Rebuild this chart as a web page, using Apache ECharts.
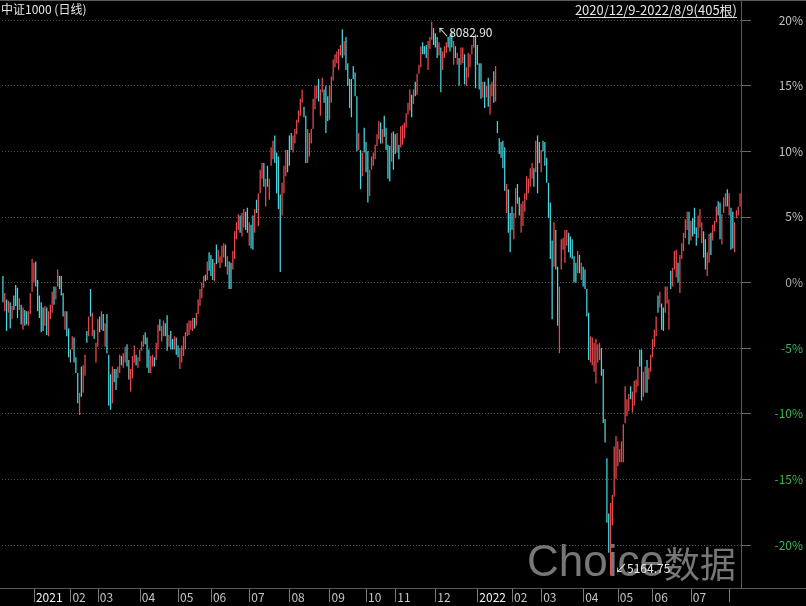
<!DOCTYPE html>
<html><head><meta charset="utf-8">
<script src="https://cdn.jsdelivr.net/npm/echarts@6/dist/echarts.min.js"></script>
<style>html,body{margin:0;padding:0;background:#000;}#c{width:806px;height:606px;}</style>
</head><body><div id="c"></div>
<script>
const titleText = '中证1000 (日线)';
const rangeText = '2020/12/9-2022/8/9(405根)';
const months = ['2020-12','2021-01','2021-02','2021-03','2021-04','2021-05','2021-06','2021-07','2021-08','2021-09','2021-10','2021-11','2021-12','2022-01','2022-02','2022-03','2022-04','2022-05','2022-06','2022-07','2022-08'];
const monthDays = [17,20,15,23,21,18,21,22,22,20,16,22,23,19,16,23,19,19,21,21,7];
const monthLabels = ['','2021','02','03','04','05','06','07','08','09','10','11','12','2022','02','03','04','05','06','07',''];
const yTickValues = [-25,-20,-15,-10,-5,0,5,10,15,20,25];
const peakLabel = '8082.90';
const troughLabel = '5164.75';
// [open, close, low, high] in % vs base
const candles = [
[0.2,-1.0,-1.5,0.5],[-1.9,-1.0,-2.2,-0.8],[-1.6,-3.1,-3.7,-1.3],[-2.1,-1.6,-2.3,-1.4],[-1.8,-3.0,-3.5,-1.5],[-2.6,-2.0,-2.8,-1.8],[-1.2,-1.8,-2.1,-1.0],[-0.4,-1.4,-1.8,-0.2],[-0.7,-2.2,-2.7,-0.4],[-1.9,-1.4,-2.1,-1.2],
[-1.9,-2.8,-3.2,-1.7],[-3.2,-2.2,-3.6,-1.9],[-2.3,-3.0,-3.3,-2.1],[-2.4,-3.0,-3.2,-2.2],[-3.0,-2.4,-3.3,-2.2],[-2.0,-1.0,-2.4,-0.8],[-0.1,1.5,-0.7,1.8],[0.4,1.3,0.0,1.5],[1.3,0.2,-0.3,1.6],[-0.1,-1.6,-2.2,0.2],
[-1.3,-2.3,-2.7,-1.0],[-1.9,-3.2,-3.8,-1.5],[-2.2,-3.3,-3.7,-1.9],[-2.9,-2.0,-3.3,-1.8],[-2.2,-3.5,-4.0,-1.9],[-3.6,-2.5,-4.1,-2.2],[-2.5,-1.9,-2.8,-1.7],[-1.9,-0.9,-2.3,-0.7],[-0.5,-1.4,-1.7,-0.3],[-1.1,-0.5,-1.3,-0.3],
[0.0,0.8,-0.3,1.0],[0.4,-0.3,-0.5,0.5],[0.3,-0.7,-1.0,0.5],[-1.0,-2.2,-2.6,-0.8],[-3.2,-2.4,-3.6,-2.2],[-2.5,-3.7,-4.1,-2.2],[-3.8,-5.2,-5.7,-3.5],[-5.6,-5.6,-6.1,-5.1],[-4.9,-4.3,-5.1,-4.1],[-4.5,-5.7,-6.1,-4.2],
[-5.9,-6.6,-6.9,-5.7],[-7.2,-8.6,-9.2,-6.9],[-9.7,-8.7,-10.1,-8.4],[-6.7,-8.1,-8.7,-6.4],[-7.9,-6.6,-8.4,-6.3],[-6.7,-5.8,-7.1,-5.5],[-3.9,-4.4,-4.6,-3.7],[-3.7,-2.8,-4.1,-2.6],[-0.8,-2.1,-2.6,-0.5],[-3.7,-2.6,-4.1,-2.3],
[-3.7,-4.1,-4.3,-3.6],[-5.7,-4.8,-6.1,-4.6],[-4.4,-3.1,-4.9,-2.8],[-2.8,-3.5,-3.8,-2.6],[-3.2,-2.4,-3.6,-2.2],[-2.6,-3.4,-3.7,-2.4],[-4.4,-3.4,-4.9,-3.1],[-2.8,-4.7,-5.4,-2.4],[-6.1,-8.5,-9.4,-5.5],[-7.4,-9.1,-9.7,-7.0],
[-8.5,-6.8,-9.2,-6.4],[-6.8,-7.4,-7.6,-6.6],[-6.8,-7.8,-8.2,-6.6],[-7.1,-6.6,-7.3,-6.4],[-6.6,-5.8,-6.9,-5.5],[-5.7,-6.1,-6.3,-5.6],[-6.2,-5.6,-6.5,-5.4],[-5.8,-5.1,-6.1,-4.9],
[-4.9,-6.0,-6.4,-4.7],[-6.6,-6.6,-7.4,-5.9],[-7.8,-6.9,-8.3,-6.6],[-6.8,-5.9,-7.3,-5.6],[-5.8,-5.0,-6.1,-4.8],[-5.6,-6.1,-6.3,-5.5],[-6.3,-5.8,-6.5,-5.7],[-5.8,-5.2,-6.0,-5.1],[-5.0,-4.6,-5.2,-4.5],[-4.6,-4.1,-4.9,-4.0],
[-3.9,-4.5,-4.7,-3.8],[-4.5,-6.0,-6.5,-4.2],[-5.3,-6.5,-6.9,-5.1],[-6.6,-5.8,-6.9,-5.6],[-6.1,-5.6,-6.4,-5.5],[-5.8,-6.2,-6.4,-5.7],[-5.6,-4.8,-5.9,-4.6],[-4.6,-3.5,-5.1,-3.2],[-2.9,-3.5,-3.7,-2.8],[-4.2,-3.5,-4.5,-3.3],
[-3.8,-3.1,-4.1,-2.9],[-3.2,-3.8,-4.1,-3.1],[-2.9,-4.6,-5.2,-2.5],[-4.6,-4.1,-4.9,-4.0],[-3.9,-4.7,-5.1,-3.7],[-4.5,-4.9,-5.1,-4.3],[-4.8,-4.2,-5.1,-4.1],[-4.4,-5.2,-5.5,-4.2],[-5.0,-5.5,-5.7,-4.8],[-6.2,-5.2,-6.6,-5.0],
[-5.8,-5.0,-6.1,-4.8],[-5.2,-4.3,-5.6,-4.1],[-4.8,-4.0,-5.1,-3.8],[-3.8,-3.2,-4.1,-3.1],[-3.7,-3.1,-4.0,-2.9],[-3.4,-3.0,-3.6,-2.9],[-3.4,-2.8,-3.7,-2.7],[-2.8,-3.3,-3.5,-2.7],[-3.1,-2.4,-3.3,-2.3],[-2.2,-1.4,-2.4,-1.3],
[-1.5,-0.7,-1.8,-0.5],[-0.9,-0.2,-1.2,0.0],[-0.2,0.4,-0.4,0.5],[0.5,0.2,0.1,0.6],[0.5,1.4,0.2,1.6],[2.0,1.2,0.9,2.3],[1.9,0.8,0.5,2.1],[1.5,0.6,0.2,1.8],[0.4,1.3,0.1,1.5],[2.6,1.7,1.4,2.9],
[1.7,2.3,1.5,2.5],[1.3,1.9,1.1,2.0],[1.8,2.6,1.5,2.8],[2.1,2.9,1.9,3.0],[2.6,1.6,1.2,2.9],[0.9,1.8,0.6,2.0],[1.3,-0.1,-0.5,1.6],[1.2,-0.1,-0.5,1.5],[1.3,2.2,1.0,2.4],[2.3,3.6,1.8,3.9],
[3.6,4.4,3.3,4.6],[4.3,5.0,4.0,5.2],[4.9,4.1,3.8,5.1],[3.9,5.0,3.5,5.3],[4.5,5.4,4.2,5.6],[5.2,4.3,4.0,5.4],[5.4,4.2,3.8,5.7],[3.2,4.3,2.8,4.6],[4.2,3.0,2.6,4.4],[4.7,3.0,2.5,5.1],
[4.2,5.3,3.8,5.6],[6.2,5.5,5.3,6.3],[4.9,6.5,4.3,6.8],[7.3,8.4,6.8,8.6],[8.2,8.9,7.9,9.1],[8.9,7.8,7.3,9.1],[6.3,7.6,5.8,7.9],[8.6,7.7,7.3,8.9],[6.7,7.6,6.3,7.9],[9.2,10.0,8.9,10.3],
[9.7,10.6,9.4,10.8],[10.8,9.6,9.1,11.2],[9.4,7.6,6.8,9.9],[9.0,6.4,5.6,9.6],[6.3,4.5,0.8,6.7],[5.6,7.3,5.1,7.6],[7.3,8.6,6.8,8.9],[8.6,9.9,8.1,10.1],[9.3,9.3,8.4,10.1],[10.8,9.4,8.9,11.2],
[11.2,10.4,10.1,11.4],[10.2,11.0,9.9,11.2],[10.9,11.5,10.6,11.7],[11.6,12.2,11.3,12.4],[12.4,12.9,12.2,13.1],[13.0,13.8,12.7,14.0],[14.0,14.5,13.7,14.7],[13.3,12.8,12.6,13.4],[12.2,9.8,9.1,12.7],[9.7,11.3,9.1,11.7],
[10.1,11.1,9.6,11.4],[10.9,11.5,10.6,11.7],[12.1,13.6,11.7,14.0],[13.6,14.7,13.2,15.0],[14.2,14.8,14.0,15.0],[15.2,14.2,13.8,15.5],[13.2,14.4,12.7,14.7],[14.7,15.4,14.5,15.6],[14.5,13.9,13.7,14.7],[14.5,12.3,11.4,15.0],
[13.9,12.8,12.3,14.2],[13.0,14.6,12.4,15.0],[14.2,15.4,13.7,15.7],[15.8,16.7,15.4,17.0],[16.6,17.2,16.4,17.4],[17.0,17.5,16.7,17.6],[16.6,17.5,16.2,17.8],[17.5,18.0,17.3,18.1],[18.9,17.6,17.1,19.3],[17.5,18.2,17.3,18.4],
[18.3,16.8,16.2,18.7],[16.5,15.4,15.0,16.7],[14.4,14.4,13.3,15.5],[15.1,13.2,12.6,15.5],[16.3,15.7,15.5,16.5],[15.7,14.6,14.2,16.0],[13.6,10.8,10.0,14.2],[10.4,11.2,10.1,11.4],[9.7,7.8,7.1,10.1],[8.4,9.6,8.1,9.9],
[11.5,10.3,9.9,11.8],[10.3,8.9,8.4,10.7],[9.4,6.9,6.1,10.0],[7.0,8.3,6.6,8.6],[8.8,9.4,8.6,9.6],[9.1,9.7,8.9,9.9],[9.6,10.3,9.4,10.5],[10.6,11.1,10.4,11.3],[11.2,12.1,10.9,12.3],
[11.9,11.0,10.6,12.2],[10.9,11.5,10.6,11.7],[12.4,11.5,11.1,12.7],[11.5,10.5,10.1,11.8],[10.1,8.4,7.9,10.5],[10.0,8.3,7.7,10.4],[9.8,11.1,9.2,11.4],[11.1,9.2,8.6,11.5],[11.0,10.1,9.8,11.3],[10.3,11.1,9.9,11.4],
[10.3,9.6,9.4,10.5],[10.7,11.6,10.3,11.9],[10.9,11.8,10.5,12.0],[11.3,12.0,11.0,12.2],[12.1,12.8,11.8,12.9],[13.0,13.5,12.8,13.7],[13.5,14.4,13.1,14.7],[14.1,13.0,12.6,14.3],[13.9,14.5,13.6,14.7],[15.2,14.5,14.2,15.3],
[14.7,15.6,14.3,15.9],[16.0,16.5,15.9,16.6],[16.8,17.8,16.4,18.0],[18.1,17.6,17.4,18.3],[17.9,17.5,17.4,18.0],[18.0,17.4,17.1,18.1],[16.7,18.1,16.2,18.4],[18.0,18.5,17.8,18.7],[18.8,19.6,18.5,19.87],[19.2,18.4,18.1,19.4],
[18.8,18.1,17.9,19.0],[18.4,17.5,17.1,18.7],[17.5,18.1,17.3,18.3],[17.5,15.2,14.5,17.9],[16.5,17.4,16.2,17.6],[17.3,17.9,17.1,18.0],[17.7,18.1,17.5,18.3],[18.5,18.0,17.9,18.7],[18.6,17.9,17.6,18.8],[19.0,18.1,17.9,19.2],
[17.0,18.1,16.6,18.4],[17.9,17.3,17.1,18.0],[16.8,17.3,16.6,17.5],[16.8,15.4,15.0,17.1],[16.9,17.7,16.6,17.9],[17.0,17.7,16.7,17.9],[17.1,15.6,15.1,17.4],[15.3,16.1,15.0,16.4],[16.0,17.2,15.6,17.5],[16.6,17.2,16.4,17.4],
[17.6,18.0,17.4,18.1],[18.1,18.6,17.9,18.8],[18.5,15.6,14.8,18.9],[17.9,16.9,16.6,18.1],[16.5,15.1,14.7,16.7],[16.4,14.5,14.0,16.7],[14.4,15.1,14.1,15.3],[15.0,13.8,13.3,15.3],[14.3,14.8,14.1,15.0],[15.3,13.9,13.4,15.6],
[13.4,14.8,12.8,15.1],[14.5,15.1,14.2,15.3],[14.9,14.9,13.7,16.1],[14.5,16.1,13.8,16.5],[12.2,11.6,11.4,12.3],[10.9,10.0,9.8,11.0],[10.5,9.7,9.5,10.7],[10.5,9.2,8.7,10.8],[9.9,7.5,7.0,10.3],
[5.7,7.2,5.3,7.5],[6.8,4.4,3.8,7.1],[5.0,2.8,2.3,5.3],[5.6,4.4,4.0,5.8],[3.7,5.0,3.3,5.3],[5.4,6.9,4.9,7.2],[7.3,6.3,6.0,7.5],[6.3,5.4,5.1,6.5],[4.3,5.6,3.8,6.0],[4.7,5.9,4.3,6.2],
[5.8,6.6,5.4,6.8],[6.8,7.8,6.3,8.1],[7.1,7.7,6.8,7.9],[7.7,8.5,7.3,8.7],[8.2,8.9,7.9,9.1],[8.5,7.7,7.3,8.7],[8.9,10.4,8.4,10.8],[10.5,7.6,6.8,11.2],[9.9,9.9,9.1,10.7],[8.8,9.9,8.4,10.1],
[10.7,10.2,10.0,10.8],[10.4,9.3,8.9,10.7],[9.2,8.0,7.6,9.5],[7.2,5.5,4.9,7.6],[5.4,2.6,1.8,6.1],[2.3,-1.4,-2.8,3.2],[1.8,4.2,1.2,4.6],[2.5,2.5,1.0,4.0],[0.9,-2.6,-3.3,1.2],
[-4.5,-0.6,-5.4,-0.3],[1.4,3.0,1.0,3.3],[2.7,3.3,2.5,3.4],[2.0,3.7,1.5,4.0],[3.0,3.9,2.8,4.0],[3.6,2.6,2.3,3.8],[3.3,2.2,1.9,3.5],[3.1,2.1,1.8,3.3],[1.8,0.4,0.0,2.0],[1.3,0.3,0.0,1.5],
[1.0,2.2,0.7,2.4],[1.9,1.0,0.7,2.1],[0.5,1.3,0.2,1.5],[1.0,0.1,-0.3,1.2],[0.8,-0.2,-0.5,1.0],[-0.8,-2.1,-2.6,-0.5],[-2.7,-5.2,-5.9,-2.3],[-5.7,-4.3,-6.1,-4.1],[-5.8,-4.5,-6.3,-4.2],[-6.3,-4.8,-6.8,-4.6],
[-7.0,-4.7,-7.7,-4.3],[-5.8,-4.9,-6.1,-4.7],[-5.6,-4.8,-5.9,-4.6],[-5.2,-6.7,-7.1,-5.0],[-7.0,-10.1,-10.7,-6.6],[-10.6,-11.9,-12.2,-10.4],[-13.8,-17.6,-18.3,-13.4],[-17.8,-20.2,-20.6,-17.6],[-20.4,-17.2,-22.3,-16.8],[-17.9,-16.5,-18.5,-16.2],
[-15.8,-12.8,-16.3,-12.5],[-14.6,-12.0,-15.0,-11.7],[-13.4,-12.4,-14.0,-12.1],[-13.5,-12.9,-13.7,-12.7],[-13.4,-12.3,-13.7,-12.1],[-13.2,-11.1,-13.7,-10.8],[-10.2,-8.2,-10.7,-7.9],
[-9.9,-9.1,-10.2,-8.9],[-9.5,-8.7,-9.8,-8.5],[-8.0,-8.7,-8.9,-7.9],[-9.6,-8.5,-9.9,-8.3],[-9.0,-7.8,-9.4,-7.5],[-8.2,-7.5,-8.4,-7.4],[-7.6,-6.6,-7.9,-6.4],[-5.3,-6.1,-6.4,-5.1],[-5.6,-8.3,-9.0,-5.1],[-8.3,-7.0,-8.7,-6.8],
[-8.0,-6.6,-8.4,-6.4],[-6.2,-7.9,-8.4,-5.9],[-7.2,-6.6,-7.4,-6.5],[-6.5,-5.7,-6.8,-5.5],[-5.4,-4.5,-5.7,-4.3],[-4.6,-3.8,-4.9,-3.6],[-3.8,-2.8,-4.1,-2.6],[-1.2,-2.0,-2.3,-1.0],[-1.7,-0.8,-1.9,-0.7],[-1.8,-3.2,-3.6,-1.6],
[-2.2,-3.3,-3.7,-1.9],[-1.9,-0.5,-2.3,-0.3],[-1.3,-0.4,-1.6,-0.3],[-3.2,-1.6,-3.6,-1.3],[0.7,-0.2,-0.5,0.9],[0.1,1.0,-0.3,1.1],[1.3,2.2,1.0,2.4],[0.8,2.3,0.4,2.5],[1.3,0.4,0.0,1.5],[-0.3,1.8,-0.8,2.1],
[2.0,2.9,1.8,3.0],[2.7,3.6,2.4,3.8],[3.7,4.6,3.4,4.8],[4.4,5.2,4.0,5.4],[5.2,3.5,2.9,5.4],[3.5,4.5,3.2,4.7],[4.8,3.8,3.5,4.9],[5.4,4.1,3.7,5.7],[4.0,3.1,2.8,4.2],[3.8,4.9,3.4,5.1],
[4.5,5.4,4.2,5.6],[3.4,4.3,3.0,4.6],[3.7,2.3,1.9,3.9],[3.0,1.5,1.0,3.3],[0.9,2.0,0.5,2.3],[2.0,3.4,1.5,3.7],[3.6,2.5,2.1,3.8],[3.4,4.3,3.2,4.4],[4.1,4.6,3.9,4.7],[4.8,5.6,4.6,5.8],
[6.0,5.3,5.1,6.2],[5.8,3.8,3.3,6.1],[3.3,4.9,2.9,5.2],[5.5,6.3,5.3,6.5],[6.0,6.7,5.8,6.8],[6.9,6.1,5.8,7.1],[5.4,6.6,5.1,6.8],[5.4,3.1,2.5,5.7],[5.1,3.2,2.6,5.4],[2.7,4.3,2.3,4.6],
[5.0,5.4,4.9,5.5],[5.2,5.7,5.1,5.8],[5.9,6.7,5.8,6.8]
];

// build categories (trading-day slots per month) and month-start label map
const categories = [];
const monthStart = {};
months.forEach(function (m, mi) {
  monthStart[categories.length] = mi;
  for (let d = 0; d < monthDays[mi]; d++) categories.push(m + '#' + (d + 1));
});
function isMonthTick(idx) { return monthStart[idx] !== undefined && monthStart[idx] > 0; }

const FONT = "'Microsoft YaHei','Noto Sans CJK SC','Liberation Sans',sans-serif";
const UP = '#ea4a4e', DOWN = '#48d6de', DOJI = '#a8a8a8';
const FRAME = '#5a5a5a';

const chart = echarts.init(document.getElementById('c'), null, {renderer: 'canvas'});
chart.setOption({
  backgroundColor: '#000',
  animation: false,
  textStyle: {fontFamily: FONT},
  title: [
    {text: titleText, left: 1, top: 3, padding: 0,
     textStyle: {color: '#e6e6e6', fontSize: 12, fontWeight: 'normal', fontFamily: FONT}},
    {text: rangeText, right: 69, top: 4, padding: 0,
     textStyle: {color: '#e6e6e6', fontSize: 13, fontWeight: 'normal', fontFamily: FONT}}
  ],
  grid: {left: 2, right: 65, top: -45.6, bottom: -4.6, containLabel: false, outerBoundsMode: 'none'},
  xAxis: {
    type: 'category', data: categories, boundaryGap: true, position: 'bottom', offset: -22.6,
    axisLine: {show: false, onZero: false},
    axisTick: {show: true, length: 14, alignWithLabel: true, interval: function (i) { return isMonthTick(i); },
               lineStyle: {color: '#7a7a7a', width: 1}},
    axisLabel: {
      show: true, interval: function (i) { return isMonthTick(i) && monthLabels[monthStart[i]] !== ''; },
      align: 'left', margin: 3, padding: [0, 0, 0, 2], fontSize: 12, fontFamily: FONT,
      formatter: function (v, i) {
        const mi = monthStart[i];
        if (mi === undefined) return '';
        const t = monthLabels[mi];
        if (!t) return '';
        return t.length === 4 ? '{y|' + t + '}' : '{m|' + t + '}';
      },
      rich: {y: {color: '#f2f2f2', fontSize: 12, fontFamily: FONT}, m: {color: '#c4c4c4', fontSize: 12, fontFamily: FONT}}
    },
    splitLine: {show: false}
  },
  yAxis: {
    type: 'value', position: 'right', min: yTickValues[0], max: yTickValues[yTickValues.length - 1], interval: 5,
    axisLine: {show: false},
    axisTick: {show: true, length: 10, lineStyle: {color: '#6a6a6a'}},
    axisLabel: {
      margin: 62, align: 'right', fontSize: 12, fontFamily: FONT,
      formatter: function (v) { return v + '%'; },
      color: function (v) { v = Number(v); return v < 0 ? '#3cb551' : (v === 0 ? '#a9a9a9' : '#c2c2c2'); }
    },
    splitLine: {show: true, lineStyle: {color: '#505050', type: [1, 2], width: 1}}
  },
  series: [{
    type: 'candlestick',
    data: candles,
    large: true, largeThreshold: 50,
    barWidth: 1,
    itemStyle: {color: UP, color0: DOWN, borderColor: UP, borderColor0: DOWN, borderColorDoji: DOJI, borderWidth: 1.25},
    markPoint: {
      symbol: 'circle', symbolSize: 1,
      itemStyle: {color: 'rgba(0,0,0,0)'},
      label: {show: true, color: '#e8e8e8', fontSize: 12, fontFamily: FONT},
      data: [
        {type: 'max', valueDim: 'highest',
         label: {formatter: '↖' + peakLabel, position: 'right', distance: 5, offset: [0, 11]}},
        {type: 'min', valueDim: 'lowest',
         label: {formatter: '↙' + troughLabel, position: 'right', distance: 4, offset: [0, -7]}}
      ]
    }
  }],
  graphic: [
    {type: 'line', z: 10, shape: {x1: 0, y1: 0.5, x2: 806, y2: 0.5}, style: {stroke: FRAME, lineWidth: 1}},
    {type: 'line', z: 10, shape: {x1: 741.5, y1: 0, x2: 741.5, y2: 588}, style: {stroke: FRAME, lineWidth: 1}},
    {type: 'line', z: 10, shape: {x1: 0, y1: 588.5, x2: 806, y2: 588.5}, style: {stroke: FRAME, lineWidth: 1}},
    {type: 'line', z: 10, shape: {x1: 579, y1: 17.5, x2: 737, y2: 17.5}, style: {stroke: '#dcdcdc', lineWidth: 1}},
    {type: 'text', z: -1, left: 527, top: 542,
     style: {text: '{a|Choice}{b|数据}', fill: 'rgba(140,140,140,0.85)',
       rich: {a: {font: "44px 'Liberation Sans', sans-serif", fill: 'rgba(140,140,140,0.85)'},
              b: {font: "36px 'Noto Sans CJK SC', sans-serif", fill: 'rgba(140,140,140,0.85)'}}}}
  ]
});
</script>
</body></html>
